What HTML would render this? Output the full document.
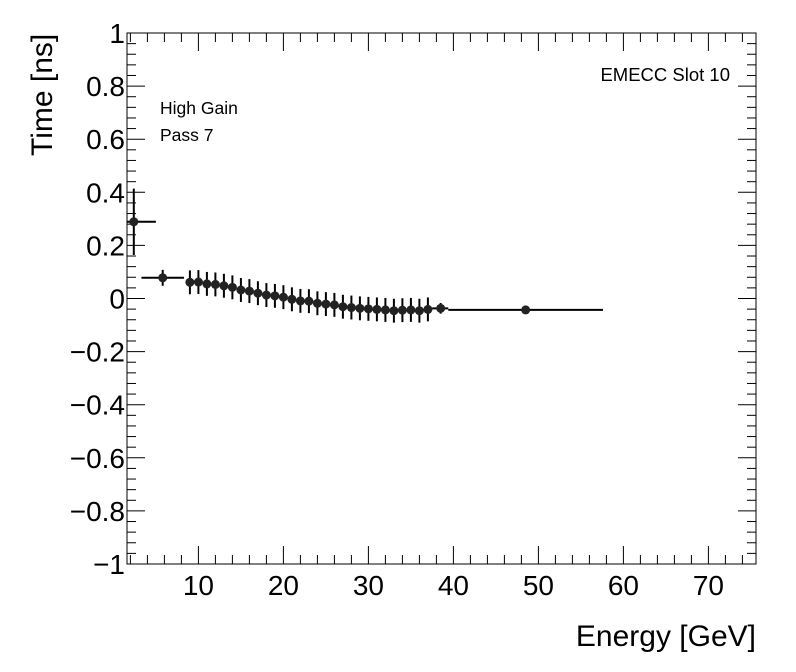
<!DOCTYPE html>
<html><head><meta charset="utf-8"><style>
body{margin:0;background:#fff;}
svg{display:block;font-family:"Liberation Sans",sans-serif;}
</style></head><body>
<svg id="chart" width="796" height="672" xmlns="http://www.w3.org/2000/svg">
<rect width="796" height="672" fill="#fff"/>
<g id="axes"></g>
<g id="marks"></g>
<text x="0" y="0" transform="translate(52,156) rotate(-90)" font-size="30" text-anchor="start">Time [ns]</text>
<text x="756" y="646" font-size="30" text-anchor="end">Energy [GeV]</text>
<text x="730" y="81" font-size="18.5" text-anchor="end">EMECC Slot 10</text>
<text x="160" y="114" font-size="17.5">High Gain</text>
<text x="160" y="141" font-size="17.5">Pass 7</text>
</svg>
<script>
const energies=[2.4,5.8,9,10,11,12,13,14,15,16,17,18,19,20,21,22,23,24,25,26,27,28,29,30,31,32,33,34,35,36,37,38.5,48.5];
const times=[0.289,0.078,0.061,0.062,0.055,0.053,0.048,0.042,0.032,0.028,0.020,0.013,0.010,0.005,-0.003,-0.009,-0.010,-0.018,-0.021,-0.024,-0.031,-0.034,-0.037,-0.039,-0.041,-0.043,-0.046,-0.044,-0.043,-0.046,-0.041,-0.037,-0.043];
const xLow=[1.6,3.3,8.5,9.5,10.5,11.5,12.5,13.5,14.5,15.5,16.5,17.5,18.5,19.5,20.5,21.5,22.5,23.5,24.5,25.5,26.5,27.5,28.5,29.5,30.5,31.5,32.5,33.5,34.5,35.5,36.5,37.5,39.4];
const xHigh=[5.0,8.3,9.5,10.5,11.5,12.5,13.5,14.5,15.5,16.5,17.5,18.5,19.5,20.5,21.5,22.5,23.5,24.5,25.5,26.5,27.5,28.5,29.5,30.5,31.5,32.5,33.5,34.5,35.5,36.5,37.5,39.4,57.6];
const yErr=[0.125,0.03,0.045,0.045,0.045,0.045,0.045,0.045,0.045,0.045,0.045,0.045,0.045,0.045,0.045,0.045,0.045,0.045,0.045,0.045,0.045,0.045,0.045,0.045,0.045,0.045,0.045,0.045,0.045,0.045,0.045,0.02,0.005];
const xTicks=[10,20,30,40,50,60,70];
const yTicks=[-1,-0.8,-0.6,-0.4,-0.2,0,0.2,0.4,0.6,0.8,1];
const X0=127,X1=756,Y0=33,Y1=564,xmin=1.6,xmax=75.6,ymin=-1,ymax=1;
const sx=v=>X0+(v-xmin)/(xmax-xmin)*(X1-X0);
const sy=v=>Y1-(v-ymin)/(ymax-ymin)*(Y1-Y0);
const NS="http://www.w3.org/2000/svg";
function mk(tag,attrs,parent){const e=document.createElementNS(NS,tag);for(const k in attrs)e.setAttribute(k,attrs[k]);parent.appendChild(e);return e;}
const ax=document.getElementById('axes'),mg=document.getElementById('marks');
const fr=mk('rect',{x:X0,y:Y0,width:X1-X0,height:Y1-Y0,fill:'none',stroke:'#000','stroke-width':1},ax);


for(let v=2;v<=74;v+=2){const big=v%10===0;const L=big?18:9;
mk('line',{x1:sx(v),x2:sx(v),y1:Y1,y2:Y1-L,stroke:'#000'},ax);
mk('line',{x1:sx(v),x2:sx(v),y1:Y0,y2:Y0+L,stroke:'#000'},ax);}
for(let i=-25;i<=25;i++){const v=i*0.04;const big=i%5===0;const L=big?18:9;
mk('line',{x1:X0,x2:X0+L,y1:sy(v),y2:sy(v),stroke:'#000'},ax);
mk('line',{x1:X1,x2:X1-L,y1:sy(v),y2:sy(v),stroke:'#000'},ax);}
xTicks.forEach(v=>{const t=mk('text',{x:sx(v),y:Y1+31,'font-size':28,'text-anchor':'middle'},ax);t.textContent=v;

});
yTicks.forEach(v=>{const s=v===0?'0':(v<0?'\u2212':'')+String(Math.abs(v));
const t=mk('text',{x:X0-2,y:sy(v)+10,'font-size':28,'text-anchor':'end'},ax);t.textContent=s;

});
energies.forEach((e,i)=>{const g=mk('g',{},mg);


const y=sy(times[i]);
mk('line',{x1:sx(xLow[i]),x2:sx(xHigh[i]),y1:y,y2:y,stroke:'#000','stroke-width':2},g);
mk('line',{x1:sx(e),x2:sx(e),y1:sy(times[i]+yErr[i]),y2:sy(times[i]-yErr[i]),stroke:'#000','stroke-width':2},g);
mk('circle',{cx:sx(e),cy:y,r:4.5,fill:'#222'},g);});
</script>
</body></html>
